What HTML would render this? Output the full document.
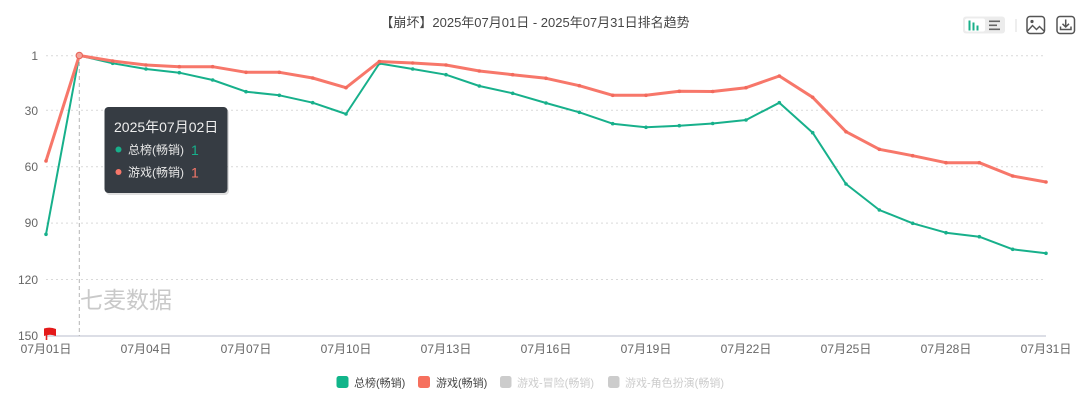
<!DOCTYPE html>
<html>
<head>
<meta charset="utf-8">
<style>
  html, body { margin: 0; padding: 0; background: #ffffff; }
  body { width: 1080px; height: 401px; overflow: hidden; }
  svg { display: block; font-family: "Liberation Sans", "Noto Sans CJK SC", sans-serif; }
</style>
</head>
<body>
<svg width="1080" height="401" viewBox="0 0 1080 401" xmlns="http://www.w3.org/2000/svg">
  <!-- Title -->
  <text x="535" y="27" text-anchor="middle" font-size="13" fill="#464646">【崩坏】2025年07月01日 - 2025年07月31日排名趋势</text>

  <!-- Toolbox -->
  <rect x="963" y="16.5" width="42" height="17" rx="3" fill="#ececec"/>
  <rect x="965" y="18.5" width="20" height="13" rx="2" fill="#ffffff"/>
  <rect x="968.5" y="20.5" width="2" height="10" fill="#19b08a"/>
  <rect x="972.5" y="22.5" width="2" height="8" fill="#19b08a"/>
  <rect x="976.5" y="25.5" width="2" height="5" fill="#19b08a"/>
  <rect x="989" y="20.5" width="11" height="1.6" fill="#666"/>
  <rect x="989" y="24.5" width="8" height="1.6" fill="#666"/>
  <rect x="989" y="28.5" width="11" height="1.6" fill="#666"/>
  <line x1="1016" y1="19" x2="1016" y2="32" stroke="#dddddd" stroke-width="1"/>
  <rect x="1027" y="16.5" width="17.5" height="17" rx="3" fill="none" stroke="#555" stroke-width="1.5"/>
  <circle cx="1032" cy="21.5" r="1.6" fill="#555"/>
  <polyline points="1027.5,31 1032.5,25.5 1036.5,29.5 1039.5,26.5 1044,31" fill="none" stroke="#555" stroke-width="1.4"/>
  <rect x="1057" y="16.5" width="17.5" height="17" rx="3" fill="none" stroke="#555" stroke-width="1.5"/>
  <line x1="1065.7" y1="19.5" x2="1065.7" y2="26.5" stroke="#555" stroke-width="1.5"/>
  <polyline points="1062.5,23.8 1065.7,27 1069,23.8" fill="none" stroke="#555" stroke-width="1.5"/>
  <polyline points="1060.5,26.5 1060.5,29.5 1071,29.5 1071,26.5" fill="none" stroke="#555" stroke-width="1.5"/>

  <!-- Grid lines -->
  <g stroke="#d9d9d9" stroke-width="1" stroke-dasharray="2,3">
    <line x1="46" y1="55.7" x2="1046" y2="55.7"/>
    <line x1="46" y1="110.3" x2="1046" y2="110.3"/>
    <line x1="46" y1="166.7" x2="1046" y2="166.7"/>
    <line x1="46" y1="223.1" x2="1046" y2="223.1"/>
    <line x1="46" y1="279.5" x2="1046" y2="279.5"/>
  </g>
  <!-- X axis line -->
  <line x1="46" y1="336" x2="1046" y2="336" stroke="#b9bccd" stroke-width="1"/>

  <!-- Y axis labels -->
  <g font-size="12" fill="#666" text-anchor="end">
    <text x="38" y="60">1</text>
    <text x="38" y="115">30</text>
    <text x="38" y="171">60</text>
    <text x="38" y="227">90</text>
    <text x="38" y="284">120</text>
    <text x="38" y="340">150</text>
  </g>

  <!-- X axis labels -->
  <g font-size="12" fill="#666" text-anchor="middle">
    <text x="46" y="353">07月01日</text>
    <text x="146" y="353">07月04日</text>
    <text x="246" y="353">07月07日</text>
    <text x="346" y="353">07月10日</text>
    <text x="446" y="353">07月13日</text>
    <text x="546" y="353">07月16日</text>
    <text x="646" y="353">07月19日</text>
    <text x="746" y="353">07月22日</text>
    <text x="846" y="353">07月25日</text>
    <text x="946" y="353">07月28日</text>
    <text x="1046" y="353">07月31日</text>
  </g>

  <!-- Watermark -->
  <text x="80" y="308" font-size="23" fill="#c9c9c9">七麦数据</text>

  <!-- Axis pointer -->
  <line x1="79.3" y1="55" x2="79.3" y2="336" stroke="#b5b5b5" stroke-width="1" stroke-dasharray="4,3"/>

  <!-- Green series -->
  <polyline fill="none" stroke="#17b08b" stroke-width="2" stroke-linejoin="round"
    points="46,234.3 79.33,55.5 112.67,63.3 146,69 179.33,72.7 212.67,80 246,91.7 279.33,95.3 312.67,102.7 346,114 379.33,63.5 412.67,69 446,74.7 479.33,86 512.67,93.3 546,103 579.33,112.3 612.67,123.7 646,127.3 679.33,125.7 712.67,123.5 746,120 779.33,102.7 812.67,132.7 846,184 879.33,210 912.67,223.3 946,232.7 979.33,236.7 1012.67,249.3 1046,253.3"/>
  <g fill="#17b08b">
    <circle cx="46" cy="234.3" r="1.8"/><circle cx="112.67" cy="63.3" r="1.8"/><circle cx="146" cy="69" r="1.8"/><circle cx="179.33" cy="72.7" r="1.8"/><circle cx="212.67" cy="80" r="1.8"/><circle cx="246" cy="91.7" r="1.8"/><circle cx="279.33" cy="95.3" r="1.8"/><circle cx="312.67" cy="102.7" r="1.8"/><circle cx="346" cy="114" r="1.8"/><circle cx="379.33" cy="63.5" r="1.8"/><circle cx="412.67" cy="69" r="1.8"/><circle cx="446" cy="74.7" r="1.8"/><circle cx="479.33" cy="86" r="1.8"/><circle cx="512.67" cy="93.3" r="1.8"/><circle cx="546" cy="103" r="1.8"/><circle cx="579.33" cy="112.3" r="1.8"/><circle cx="612.67" cy="123.7" r="1.8"/><circle cx="646" cy="127.3" r="1.8"/><circle cx="679.33" cy="125.7" r="1.8"/><circle cx="712.67" cy="123.5" r="1.8"/><circle cx="746" cy="120" r="1.8"/><circle cx="779.33" cy="102.7" r="1.8"/><circle cx="812.67" cy="132.7" r="1.8"/><circle cx="846" cy="184" r="1.8"/><circle cx="879.33" cy="210" r="1.8"/><circle cx="912.67" cy="223.3" r="1.8"/><circle cx="946" cy="232.7" r="1.8"/><circle cx="979.33" cy="236.7" r="1.8"/><circle cx="1012.67" cy="249.3" r="1.8"/><circle cx="1046" cy="253.3" r="1.8"/>
  </g>

  <!-- Red series -->
  <polyline fill="none" stroke="#f7776a" stroke-width="3" stroke-linejoin="round"
    points="46,161 79.33,55.5 112.67,61 146,65 179.33,66.7 212.67,66.7 246,72.3 279.33,72.3 312.67,78 346,87.7 379.33,61.5 412.67,63 446,65 479.33,71 512.67,74.7 546,78.3 579.33,85.7 612.67,95.3 646,95.3 679.33,91.3 712.67,91.5 746,87.7 779.33,76 812.67,97.3 846,131.7 879.33,149.3 912.67,155.7 946,162.7 979.33,162.7 1012.67,176 1046,182"/>
  <g fill="#f26a5d">
    <circle cx="46" cy="161" r="1.8"/><circle cx="112.67" cy="61" r="1.8"/><circle cx="146" cy="65" r="1.8"/><circle cx="179.33" cy="66.7" r="1.8"/><circle cx="212.67" cy="66.7" r="1.8"/><circle cx="246" cy="72.3" r="1.8"/><circle cx="279.33" cy="72.3" r="1.8"/><circle cx="312.67" cy="78" r="1.8"/><circle cx="346" cy="87.7" r="1.8"/><circle cx="379.33" cy="61.5" r="1.8"/><circle cx="412.67" cy="63" r="1.8"/><circle cx="446" cy="65" r="1.8"/><circle cx="479.33" cy="71" r="1.8"/><circle cx="512.67" cy="74.7" r="1.8"/><circle cx="546" cy="78.3" r="1.8"/><circle cx="579.33" cy="85.7" r="1.8"/><circle cx="612.67" cy="95.3" r="1.8"/><circle cx="646" cy="95.3" r="1.8"/><circle cx="679.33" cy="91.3" r="1.8"/><circle cx="712.67" cy="91.5" r="1.8"/><circle cx="746" cy="87.7" r="1.8"/><circle cx="779.33" cy="76" r="1.8"/><circle cx="812.67" cy="97.3" r="1.8"/><circle cx="846" cy="131.7" r="1.8"/><circle cx="879.33" cy="149.3" r="1.8"/><circle cx="912.67" cy="155.7" r="1.8"/><circle cx="946" cy="162.7" r="1.8"/><circle cx="979.33" cy="162.7" r="1.8"/><circle cx="1012.67" cy="176" r="1.8"/><circle cx="1046" cy="182" r="1.8"/>
  </g>
  <!-- Emphasis point day 2 -->
  <circle cx="79.33" cy="55.5" r="3.2" fill="#f4a49b" stroke="#e8675b" stroke-width="1.2"/>

  <!-- Flag marker -->
  <line x1="46.5" y1="329" x2="46.5" y2="340" stroke="#e02020" stroke-width="1.6"/>
  <path d="M44,328.5 Q50,326.5 56,329 L56,336 Q50,333.5 44,336 Z" fill="#e41a1a"/>

  <!-- Tooltip -->
  <rect x="106" y="109" width="123" height="86" rx="4" fill="#000" opacity="0.12"/>
  <rect x="104.5" y="107" width="123" height="86" rx="4" fill="#363c43"/>
  <text x="114" y="132" font-size="14" fill="#eeeeee">2025年07月02日</text>
  <circle cx="118.5" cy="149.5" r="3" fill="#17b08b"/>
  <text x="128" y="154" font-size="12" fill="#e6e6e6">总榜(畅销)</text>
  <text x="191" y="155" font-size="14" fill="#17b08b">1</text>
  <circle cx="118.5" cy="172" r="3" fill="#f7776a"/>
  <text x="128" y="176.5" font-size="12" fill="#e6e6e6">游戏(畅销)</text>
  <text x="191" y="177.5" font-size="14" fill="#f7776a">1</text>

  <!-- Legend -->
  <rect x="336.5" y="376" width="12" height="12" rx="2.5" fill="#11b58a"/>
  <text x="354" y="386.5" font-size="11" fill="#444">总榜(畅销)</text>
  <rect x="418" y="376" width="12" height="12" rx="2.5" fill="#f6705e"/>
  <text x="436" y="386.5" font-size="11" fill="#444">游戏(畅销)</text>
  <rect x="500" y="376" width="11.5" height="12" rx="2.5" fill="#cccccc"/>
  <text x="517" y="386.5" font-size="11" fill="#cccccc">游戏-冒险(畅销)</text>
  <rect x="608" y="376" width="11.5" height="12" rx="2.5" fill="#cccccc"/>
  <text x="625" y="386.5" font-size="11" fill="#cccccc">游戏-角色扮演(畅销)</text>
</svg>
</body>
</html>
